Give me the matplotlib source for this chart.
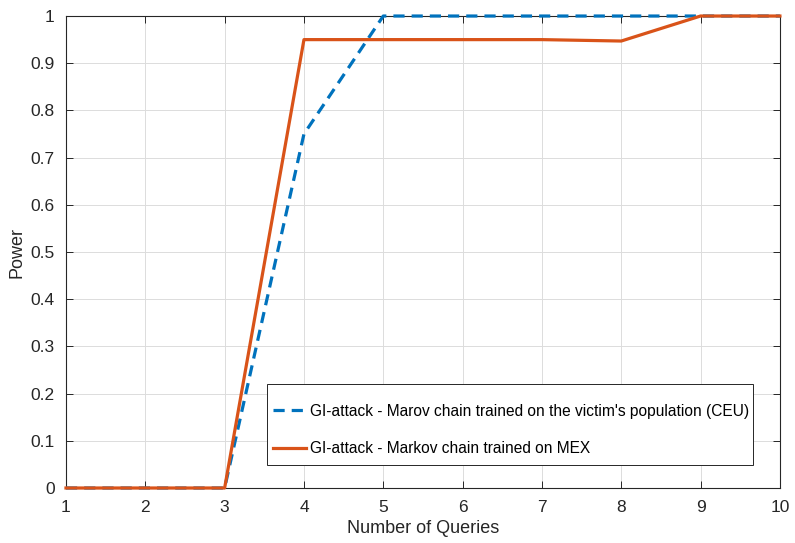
import matplotlib.pyplot as plt
from matplotlib.patches import Rectangle

# --- Data ---
queries = [1, 2, 3, 4, 5, 6, 7, 8, 9, 10]
power_ceu = [0, 0, 0, 0.75, 1.0, 1.0, 1.0, 1.0, 1.0, 1.0]
power_mex = [0, 0, 0, 0.95, 0.95, 0.95, 0.95, 0.947, 1.0, 1.0]

LABEL_CEU = "GI-attack - Marov chain trained on the victim's population (CEU)"
LABEL_MEX = "GI-attack - Markov chain trained on MEX"

BLUE = "#0072BD"
ORANGE = "#D95319"

plt.rcParams.update({
    "font.family": ["Liberation Sans", "DejaVu Sans"],
    "font.size": 12,
})

fig = plt.figure(figsize=(7.95, 5.43), dpi=100)
ax = fig.add_axes([0.083, 0.1013, 0.898, 0.8692])

ax.plot(queries, power_ceu, color=BLUE, linewidth=2.3, linestyle=(0, (3.5, 2.2)),
        label=LABEL_CEU, zorder=3, clip_on=False)
ax.plot(queries, power_mex, color=ORANGE, linewidth=2.3, label=LABEL_MEX,
        zorder=3, clip_on=False)

ax.set_xlim(1, 10)
ax.set_ylim(0, 1)
ax.set_xticks(range(1, 11))
ax.set_yticks([i / 10 for i in range(11)])
ax.set_yticklabels(["0"] + [f"{i/10:.1f}" for i in range(1, 10)] + ["1"])

ax.grid(True, color="#dcdcdc", linewidth=0.7)
ax.set_axisbelow(True)
for s in ax.spines.values():
    s.set_color("#262626")
    s.set_linewidth(0.8)
ax.tick_params(direction="in", top=True, right=True, length=5, width=0.7,
               colors="#262626", labelsize=12.5, labelcolor="#262626")
ax.tick_params(axis="x", pad=9)
ax.tick_params(axis="y", pad=8)

ax.set_xlabel("Number of Queries", fontsize=13, color="#262626", labelpad=3)
ax.set_ylabel("Power", fontsize=13, color="#262626", labelpad=4)

# legend box drawn separately so the padding can match (MATLAB style)
box = Rectangle((0.2815, 0.0487), 0.6805, 0.1716, transform=ax.transAxes,
                facecolor="white", edgecolor="#262626", linewidth=0.7, zorder=4)
ax.add_patch(box)
leg = ax.legend(loc="upper left", bbox_to_anchor=(0.29, 0.179), fontsize=11.2,
                frameon=False, handlelength=2.1, handletextpad=0.3,
                labelspacing=1.45, borderpad=0, borderaxespad=0)
leg.set_zorder(5)

plt.savefig("out.png", dpi=100)
